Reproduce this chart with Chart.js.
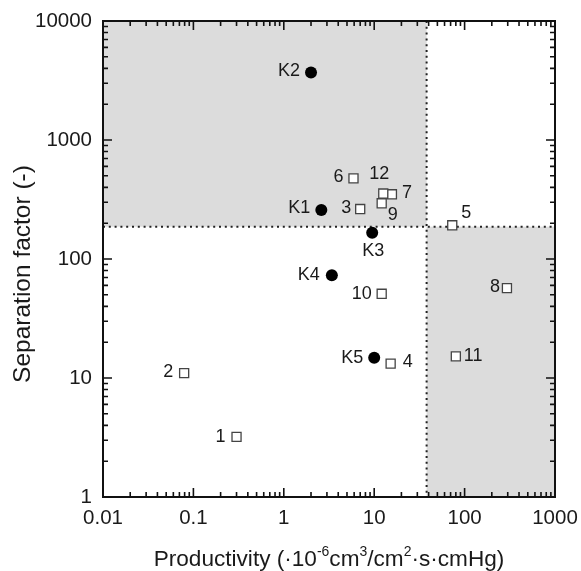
<!DOCTYPE html>
<html>
<head>
<meta charset="utf-8">
<script src="https://cdn.jsdelivr.net/npm/chart.js@4.4.1/dist/chart.umd.min.js"></script>
<style>
  html, body { margin: 0; padding: 0; background: #fff; }
  #wrap { width: 581px; height: 571px; }
</style>
</head>
<body>
<div id="wrap"><canvas id="c" width="581" height="571"></canvas></div>
<script>
// Separation factor vs productivity, log-log map with two shaded quadrants.

// this work (filled circles)
const kNames = ['K1', 'K2', 'K3', 'K4', 'K5'];
const kProd = [2.6, 2.0, 9.5, 3.4, 10];
const kSep = [258, 3700, 166, 73, 14.8];

// literature membranes (open squares)
const refNames = ['1', '2', '3', '4', '5', '6', '7', '8', '9', '10', '11', '12'];
const refProd = [0.30, 0.079, 7.0, 15.2, 73, 5.9, 15.7, 294, 12.1, 12.1, 80, 12.6];
const refSep = [3.2, 11, 263, 13.2, 192, 476, 350, 57, 294, 51, 15.2, 355];

// quadrant limits (dotted lines)
const limitProd = 38;
const limitSep = 187;

// axis ranges + tick labels
const xDecades = [0.01, 0.1, 1, 10, 100, 1000];
const xTickLabels = ['0.01', '0.1', '1', '10', '100', '1000'];
const yDecades = [1, 10, 100, 1000, 10000];
const yTickLabels = ['1', '10', '100', '1000', '10000'];

// label placement next to each marker: [align, dx, dy]
const kLabelPos = [['right', -11, -2], ['right', -11, -1], ['center', 1, 18], ['right', -12, 0], ['right', -11, 0]];
const refLabelPos = [
  ['right', -11, 0], ['right', -11, -1], ['right', -9, -1], ['left', 12, -2],
  ['left', 9, -12], ['right', -10, -1], ['left', 10, -1], ['right', -7, -1],
  ['center', 11, 12], ['right', -10, 0], ['left', 8, 0], ['center', -4, -19]
];

const FONT = "'Liberation Sans', Arial, Helvetica, sans-serif";

const toPts = (xs, ys) => xs.map((x, i) => ({ x, y: ys[i] }));

const decoPlugin = {
  id: 'deco',
  beforeDatasetsDraw(chart) {
    const { ctx, chartArea: a, scales: { x, y } } = chart;
    const lx = x.getPixelForValue(limitProd);
    const ly = y.getPixelForValue(limitSep);
    ctx.save();
    ctx.fillStyle = '#dcdcdc';
    ctx.fillRect(a.left, a.top, lx - a.left, ly - a.top);
    ctx.fillRect(lx, ly, a.right - lx, a.bottom - ly);
    ctx.strokeStyle = '#222';
    ctx.lineWidth = 2;
    ctx.setLineDash([2, 3.8]);
    ctx.beginPath();
    ctx.moveTo(a.left, ly); ctx.lineTo(a.right, ly);
    ctx.moveTo(lx, a.top); ctx.lineTo(lx, a.bottom);
    ctx.stroke();
    ctx.restore();
  },
  afterDatasetsDraw(chart) {
    const { ctx, chartArea: a, scales: { x, y } } = chart;
    ctx.save();
    // frame
    ctx.strokeStyle = '#111';
    ctx.lineWidth = 2;
    ctx.strokeRect(a.left, a.top, a.right - a.left, a.bottom - a.top);
    // inward ticks on all four sides
    ctx.lineWidth = 1.6;
    ctx.beginPath();
    const tick = (v, major, isX) => {
      const len = major ? 9 : 5;
      if (isX) {
        const px = x.getPixelForValue(v);
        ctx.moveTo(px, a.bottom); ctx.lineTo(px, a.bottom - len);
        ctx.moveTo(px, a.top); ctx.lineTo(px, a.top + len);
      } else {
        const py = y.getPixelForValue(v);
        ctx.moveTo(a.left, py); ctx.lineTo(a.left + len, py);
        ctx.moveTo(a.right, py); ctx.lineTo(a.right - len, py);
      }
    };
    xDecades.forEach((d, i) => {
      tick(d, true, true);
      if (i < xDecades.length - 1) for (let m = 2; m <= 9; m++) tick(d * m, false, true);
    });
    yDecades.forEach((d, i) => {
      tick(d, true, false);
      if (i < yDecades.length - 1) for (let m = 2; m <= 9; m++) tick(d * m, false, false);
    });
    ctx.stroke();

    // point labels
    ctx.fillStyle = '#1a1a1a';
    ctx.font = '18px ' + FONT;
    ctx.textBaseline = 'middle';
    const put = (dsIndex, names, pos) => {
      chart.getDatasetMeta(dsIndex).data.forEach((el, i) => {
        const [align, dx, dy] = pos[i];
        ctx.textAlign = align;
        ctx.fillText(names[i], el.x + dx, el.y + dy);
      });
    };
    put(0, kNames, kLabelPos);
    put(1, refNames, refLabelPos);

    // axis titles
    ctx.fillStyle = '#1a1a1a';
    ctx.textBaseline = 'alphabetic';
    ctx.textAlign = 'left';
    const parts = [['Productivity (\u00b710', 0], ['-6', 1], ['cm', 0], ['3', 1], ['/cm', 0], ['2', 1], ['\u00b7s\u00b7cmHg)', 0]];
    const big = '22.6px ' + FONT, small = '14px ' + FONT;
    let total = 0;
    parts.forEach(([t, sup]) => { ctx.font = sup ? small : big; total += ctx.measureText(t).width; });
    let cx = 329 - total / 2;
    const base = 566;
    parts.forEach(([t, sup]) => {
      ctx.font = sup ? small : big;
      ctx.fillText(t, cx, sup ? base - 10 : base);
      cx += ctx.measureText(t).width;
    });
    ctx.translate(30, (a.top + a.bottom) / 2 + 15);
    ctx.rotate(-Math.PI / 2);
    ctx.textAlign = 'center';
    ctx.font = '24.5px ' + FONT;
    ctx.fillText('Separation factor (-)', 0, 0);
    ctx.restore();
  }
};

const decadeTicks = list => scale => { scale.ticks = list.map(v => ({ value: v, major: true })); };

new Chart(document.getElementById('c'), {
  type: 'scatter',
  data: {
    datasets: [
      {
        label: 'this work',
        data: toPts(kProd, kSep),
        pointStyle: 'circle',
        pointRadius: 6,
        pointHoverRadius: 6,
        backgroundColor: '#000',
        borderColor: '#000',
        borderWidth: 0
      },
      {
        label: 'literature',
        data: toPts(refProd, refSep),
        pointStyle: 'rect',
        pointRadius: 6.4,
        pointHoverRadius: 6.4,
        backgroundColor: '#fff',
        borderColor: '#444',
        borderWidth: 1.3
      }
    ]
  },
  plugins: [decoPlugin],
  options: {
    responsive: false,
    animation: false,
    events: [],
    layout: { padding: { left: 0, top: 21, right: 26, bottom: 0 } },
    plugins: { legend: { display: false }, tooltip: { enabled: false } },
    scales: {
      x: {
        type: 'logarithmic',
        min: 0.01,
        max: 1000,
        afterBuildTicks: decadeTicks(xDecades),
        afterFit: s => { s.height = 74; s.paddingLeft = 0; s.paddingRight = 0; },
        grid: { display: false, drawTicks: false },
        border: { display: false },
        ticks: {
          autoSkip: false,
          maxRotation: 0,
          padding: 9,
          color: '#1a1a1a',
          font: { family: FONT, size: 20.5 },
          callback: v => xTickLabels[xDecades.indexOf(v)] ?? ''
        }
      },
      y: {
        type: 'logarithmic',
        min: 1,
        max: 10000,
        afterBuildTicks: decadeTicks(yDecades),
        afterFit: s => { s.width = 103; s.paddingTop = 0; s.paddingBottom = 0; },
        grid: { display: false, drawTicks: false },
        border: { display: false },
        ticks: {
          autoSkip: false,
          padding: 11,
          color: '#1a1a1a',
          font: { family: FONT, size: 20.5 },
          callback: v => yTickLabels[yDecades.indexOf(v)] ?? ''
        }
      }
    }
  }
});
</script>
</body>
</html>
